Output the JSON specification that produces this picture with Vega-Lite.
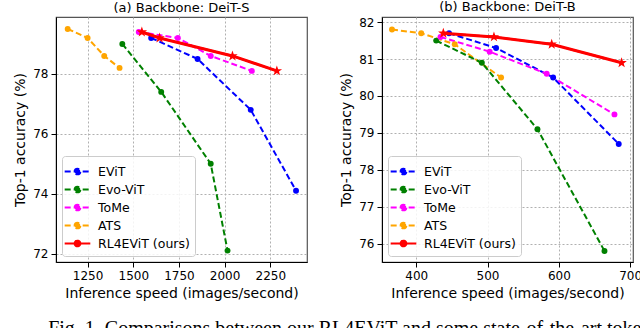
{
  "$schema": "https://vega.github.io/schema/vega-lite/v6.json",
  "padding": {"left": 13, "top": 0, "right": 0, "bottom": 0},
  "spacing": 31,
  "title": {"text": "Fig. 1.  Comparisons between our RL4EViT and some state-of-the-art token", "orient": "bottom", "anchor": "start", "font": "Liberation Serif", "fontSize": 20, "fontWeight": "normal", "color": "#000", "offset": 18, "dx": 35},
  "config": {
    "font": "DejaVu Sans",
    "view": {"stroke": "#555555", "strokeWidth": 1.2},
    "axis": {"grid": true, "labelFontSize": 12, "titleFontSize": 14, "titleFontWeight": "normal", "labelColor": "#000", "titleColor": "#000", "tickColor": "#000", "domainColor": "#000", "tickSize": 5, "labelPadding": 3, "titlePadding": 5, "gridColor": "#b0b0b0", "gridDash": [2, 2], "gridWidth": 1, "gridOpacity": 1, "domainWidth": 1},
    "title": {"fontSize": 13, "fontWeight": "normal", "color": "#000", "offset": 2},
    "legend": {
      "orient": "bottom-left", "offset": 6, "title": null, "labelFontSize": 12.5, "labelColor": "#000",
      "symbolSize": 361, "symbolStrokeWidth": 2, "rowPadding": 0, "padding": 5,
      "fillColor": "rgba(255,255,255,0.85)", "strokeColor": "#cccccc", "cornerRadius": 3, "labelOffset": 10,
      "symbolType": "M-1.35,0H1.35M-0.3,0A0.3,0.3,0,1,1,0.3,0A0.3,0.3,0,1,1,-0.3,0Z"
    }
  },
  "datasets": {
    "pts": [
      {"panel": "S", "method": "ATS", "speed": 1141, "acc": 79.5},
      {"panel": "S", "method": "ATS", "speed": 1250, "acc": 79.2},
      {"panel": "S", "method": "ATS", "speed": 1341, "acc": 78.6},
      {"panel": "S", "method": "ATS", "speed": 1425, "acc": 78.2},
      {"panel": "S", "method": "Evo-ViT", "speed": 1440, "acc": 79.0},
      {"panel": "S", "method": "Evo-ViT", "speed": 1653, "acc": 77.4},
      {"panel": "S", "method": "Evo-ViT", "speed": 1924, "acc": 75.0},
      {"panel": "S", "method": "Evo-ViT", "speed": 2016, "acc": 72.1},
      {"panel": "S", "method": "EViT", "speed": 1598, "acc": 79.2},
      {"panel": "S", "method": "EViT", "speed": 1852, "acc": 78.5},
      {"panel": "S", "method": "EViT", "speed": 2143, "acc": 76.8},
      {"panel": "S", "method": "EViT", "speed": 2391, "acc": 74.1},
      {"panel": "S", "method": "ToMe", "speed": 1530, "acc": 79.4},
      {"panel": "S", "method": "ToMe", "speed": 1744, "acc": 79.2},
      {"panel": "S", "method": "ToMe", "speed": 1924, "acc": 78.6},
      {"panel": "S", "method": "ToMe", "speed": 2149, "acc": 78.1},
      {"panel": "S", "method": "RL4EViT (ours)", "speed": 1547, "acc": 79.4},
      {"panel": "S", "method": "RL4EViT (ours)", "speed": 1644, "acc": 79.2},
      {"panel": "S", "method": "RL4EViT (ours)", "speed": 2043, "acc": 78.6},
      {"panel": "S", "method": "RL4EViT (ours)", "speed": 2286, "acc": 78.1},
      {"panel": "B", "method": "ATS", "speed": 366, "acc": 81.8},
      {"panel": "B", "method": "ATS", "speed": 407, "acc": 81.7},
      {"panel": "B", "method": "ATS", "speed": 454, "acc": 81.4},
      {"panel": "B", "method": "ATS", "speed": 519, "acc": 80.5},
      {"panel": "B", "method": "Evo-ViT", "speed": 428, "acc": 81.5},
      {"panel": "B", "method": "Evo-ViT", "speed": 492, "acc": 80.9},
      {"panel": "B", "method": "Evo-ViT", "speed": 570, "acc": 79.1},
      {"panel": "B", "method": "Evo-ViT", "speed": 664, "acc": 75.8},
      {"panel": "B", "method": "EViT", "speed": 446, "acc": 81.7},
      {"panel": "B", "method": "EViT", "speed": 512, "acc": 81.3},
      {"panel": "B", "method": "EViT", "speed": 592, "acc": 80.5},
      {"panel": "B", "method": "EViT", "speed": 684, "acc": 78.7},
      {"panel": "B", "method": "ToMe", "speed": 434, "acc": 81.6},
      {"panel": "B", "method": "ToMe", "speed": 503, "acc": 81.2},
      {"panel": "B", "method": "ToMe", "speed": 583, "acc": 80.6},
      {"panel": "B", "method": "ToMe", "speed": 678, "acc": 79.5},
      {"panel": "B", "method": "RL4EViT (ours)", "speed": 438, "acc": 81.7},
      {"panel": "B", "method": "RL4EViT (ours)", "speed": 509, "acc": 81.6},
      {"panel": "B", "method": "RL4EViT (ours)", "speed": 590, "acc": 81.4},
      {"panel": "B", "method": "RL4EViT (ours)", "speed": 688, "acc": 80.9}
    ]
  },
  "resolve": {"scale": {"x": "independent", "y": "independent", "color": "independent", "strokeDash": "independent"}, "legend": {"color": "independent", "strokeDash": "independent"}},
  "hconcat": [
    {
      "width": 251, "height": 245,
      "title": {"text": "(a) Backbone: DeiT-S"},
      "data": {"name": "pts"},
      "transform": [{"filter": "datum.panel === 'S'"}],
      "encoding": {
        "x": {"field": "speed", "type": "quantitative", "scale": {"domain": [1077, 2451], "nice": false, "zero": false}, "axis": {"values": [1250, 1500, 1750, 2000, 2250], "format": "d", "grid": true, "title": "Inference speed (images/second)"}},
        "y": {"field": "acc", "type": "quantitative", "scale": {"domain": [71.72, 79.9], "nice": false, "zero": false}, "axis": {"values": [72, 74, 76, 78], "grid": true, "title": "Top-1 accuracy (%)"}},
        "color": {"field": "method", "type": "nominal", "scale": {"domain": ["EViT", "Evo-ViT", "ToMe", "ATS", "RL4EViT (ours)"], "range": ["#0000ff", "#008000", "#ff00ff", "#ffa500", "#ff0000"]}}
      },
      "layer": [
        {
          "mark": {"type": "line", "strokeWidth": 2},
          "encoding": {
            "strokeDash": {"field": "method", "type": "nominal", "scale": {"domain": ["EViT", "Evo-ViT", "ToMe", "ATS", "RL4EViT (ours)"], "range": [[6, 3], [6, 3], [6, 3], [6, 3], [1, 0]]}}
          }
        },
        {
          "transform": [{"filter": "datum.method !== 'RL4EViT (ours)'"}],
          "mark": {"type": "point", "filled": true, "size": 35, "opacity": 1}
        },
        {
          "transform": [{"filter": "datum.method === 'RL4EViT (ours)'"}],
          "mark": {"type": "line", "strokeWidth": 3}
        },
        {
          "transform": [{"filter": "datum.method === 'RL4EViT (ours)'"}],
          "mark": {"type": "point", "filled": true, "size": 121, "opacity": 1, "shape": "M0,-1L0.235,-0.324L0.951,-0.309L0.38,0.124L0.588,0.809L0,0.4L-0.588,0.809L-0.38,0.124L-0.951,-0.309L-0.235,-0.324Z"}
        }
      ]
    },
    {
      "width": 251, "height": 245,
      "title": {"text": "(b) Backbone: DeiT-B"},
      "data": {"name": "pts"},
      "transform": [{"filter": "datum.panel === 'B'"}],
      "encoding": {
        "x": {"field": "speed", "type": "quantitative", "scale": {"domain": [352, 704], "nice": false, "zero": false}, "axis": {"values": [400, 500, 600, 700], "grid": true, "title": "Inference speed (images/second)"}},
        "y": {"field": "acc", "type": "quantitative", "scale": {"domain": [75.5, 82.14], "nice": false, "zero": false}, "axis": {"values": [76, 77, 78, 79, 80, 81, 82], "grid": true, "title": "Top-1 accuracy (%)"}},
        "color": {"field": "method", "type": "nominal", "scale": {"domain": ["EViT", "Evo-ViT", "ToMe", "ATS", "RL4EViT (ours)"], "range": ["#0000ff", "#008000", "#ff00ff", "#ffa500", "#ff0000"]}}
      },
      "layer": [
        {
          "mark": {"type": "line", "strokeWidth": 2},
          "encoding": {
            "strokeDash": {"field": "method", "type": "nominal", "scale": {"domain": ["EViT", "Evo-ViT", "ToMe", "ATS", "RL4EViT (ours)"], "range": [[6, 3], [6, 3], [6, 3], [6, 3], [1, 0]]}}
          }
        },
        {
          "transform": [{"filter": "datum.method !== 'RL4EViT (ours)'"}],
          "mark": {"type": "point", "filled": true, "size": 35, "opacity": 1}
        },
        {
          "transform": [{"filter": "datum.method === 'RL4EViT (ours)'"}],
          "mark": {"type": "line", "strokeWidth": 3}
        },
        {
          "transform": [{"filter": "datum.method === 'RL4EViT (ours)'"}],
          "mark": {"type": "point", "filled": true, "size": 121, "opacity": 1, "shape": "M0,-1L0.235,-0.324L0.951,-0.309L0.38,0.124L0.588,0.809L0,0.4L-0.588,0.809L-0.38,0.124L-0.951,-0.309L-0.235,-0.324Z"}
        }
      ]
    }
  ]
}
